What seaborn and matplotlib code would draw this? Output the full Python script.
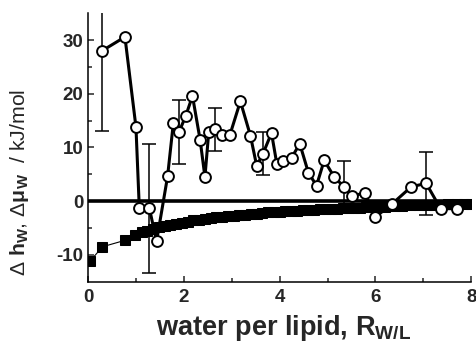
import matplotlib
matplotlib.use("Agg")
import numpy as np
import pandas as pd
import matplotlib.pyplot as plt
import seaborn as sns

# -- data
# open circles: delta h_W
r_h = [0.29, 0.77, 1.00, 1.07, 1.28, 1.43, 1.66, 1.78, 1.90, 2.04, 2.18, 2.34, 2.44,
       2.52, 2.66, 2.79, 2.96, 3.18, 3.39, 3.52, 3.65, 3.83, 3.94, 4.08, 4.25, 4.42,
       4.60, 4.77, 4.93, 5.14, 5.35, 5.52, 5.78, 5.99, 6.35, 6.75, 7.06, 7.36, 7.70]
dh = [28.0, 30.6, 13.8, -1.3, -1.3, -7.5, 4.6, 14.5, 12.9, 15.9, 19.6, 11.4, 4.5,
      12.9, 13.4, 12.3, 12.3, 18.6, 12.2, 6.6, 8.8, 12.7, 7.0, 7.4, 8.1, 10.7,
      5.3, 2.9, 7.6, 4.5, 2.6, 0.9, 1.6, -3.0, -0.5, 2.7, 3.3, -1.4, -1.4]

# error bars (index into the circles, half width)
err_idx = [0, 4, 8, 14, 20, 30, 36]
err_val = [15.0, 12.0, 6.0, 4.0, 4.0, 4.8, 5.9]

# filled squares: delta mu_W
r_mu = [0.04, 0.30, 0.77, 0.98, 1.12, 1.24, 1.36, 1.48, 1.60, 1.72, 1.84, 1.96, 2.08,
        2.20, 2.32, 2.44, 2.56, 2.68, 2.80, 2.92, 3.04, 3.16, 3.28, 3.40, 3.52, 3.64,
        3.76, 3.88, 4.00, 4.12, 4.24, 4.36, 4.48, 4.60, 4.72, 4.84, 4.96, 5.08, 5.20,
        5.32, 5.44, 5.56, 5.68, 5.80, 5.92, 6.05, 6.20, 6.40, 6.56, 6.73, 6.90, 7.08,
        7.22, 7.36, 7.52, 7.70, 7.85, 8.00]
dmu = [-11.2, -8.5, -7.3, -6.3, -5.8, -5.5, -5.2, -4.9, -4.7, -4.4, -4.2, -4.0, -3.8,
       -3.6, -3.5, -3.3, -3.2, -3.0, -2.9, -2.8, -2.7, -2.6, -2.5, -2.4, -2.3, -2.2,
       -2.1, -2.0, -2.0, -1.9, -1.8, -1.8, -1.7, -1.6, -1.6, -1.5, -1.5, -1.4, -1.4,
       -1.3, -1.3, -1.2, -1.2, -1.1, -1.1, -1.0, -1.0, -0.9, -0.9, -0.8, -0.8, -0.7,
       -0.7, -0.7, -0.6, -0.6, -0.5, -0.5]

df_h = pd.DataFrame({"R": r_h, "val": dh})
df_mu = pd.DataFrame({"R": r_mu, "val": dmu})

sns.set_style("ticks")
plt.rcParams["font.family"] = ["Liberation Sans", "DejaVu Sans"]
plt.rcParams["axes.unicode_minus"] = False
plt.rcParams["mathtext.fontset"] = "custom"
plt.rcParams["mathtext.rm"] = "Liberation Sans"
plt.rcParams["mathtext.it"] = "Liberation Sans"
plt.rcParams["mathtext.bf"] = "Liberation Sans:bold"

fig = plt.figure(figsize=(4.76, 3.41), dpi=100)
ax = fig.add_axes([0.185, 0.174, 0.805, 0.787])

# zero line
ax.axhline(0, color="black", lw=2.6, zorder=2)

# squares with thin connecting line
sns.lineplot(data=df_mu, x="R", y="val", ax=ax, sort=False, estimator=None,
             color="black", lw=0.8, marker="s", markersize=7.4,
             markeredgecolor="black", markerfacecolor="black", zorder=3)

# error bars behind circles
ax.errorbar([r_h[i] for i in err_idx], [dh[i] for i in err_idx], yerr=err_val,
            fmt="none", ecolor="black", elinewidth=1.1, capsize=4.8,
            capthick=1.1, zorder=4)

# circles with thick line
sns.lineplot(data=df_h, x="R", y="val", ax=ax, sort=False, estimator=None,
             color="black", lw=2.2, marker="o", markersize=7.8,
             markerfacecolor="white", markeredgecolor="black",
             markeredgewidth=1.4, zorder=5)

ax.set_xlim(0, 8)
ax.set_ylim(-15, 35)
ax.set_xticks([0, 2, 4, 6, 8])
ax.set_xticks([1, 3, 5, 7], minor=True)
ax.set_yticks([-10, 0, 10, 20, 30])
ax.set_yticks([-5, 5, 15, 25], minor=True)
ax.tick_params(which="both", direction="in", width=1.1, labelsize=13.5)
ax.tick_params(which="major", length=4.5)
ax.tick_params(which="minor", length=3)
ax.tick_params(axis="x", pad=5)
for lab in ax.get_xticklabels() + ax.get_yticklabels():
    lab.set_fontweight("bold")

sns.despine(ax=ax)
for s in ["left", "bottom"]:
    ax.spines[s].set_linewidth(1.1)
    ax.spines[s].set_color("black")

ax.set_xlabel(r"water per lipid, R$_{\mathbf{W/L}}$", fontsize=19.5,
              fontweight="bold")
ax.xaxis.set_label_coords(0.51, -0.115)
ax.set_ylabel(r"$\Delta$ $\mathbf{h_W}$, $\Delta\mathbf{\mu_W}$  / kJ/mol",
              fontsize=15.3)
ax.yaxis.set_label_coords(-0.15, 0.37)

plt.savefig("out.png", dpi=100)
